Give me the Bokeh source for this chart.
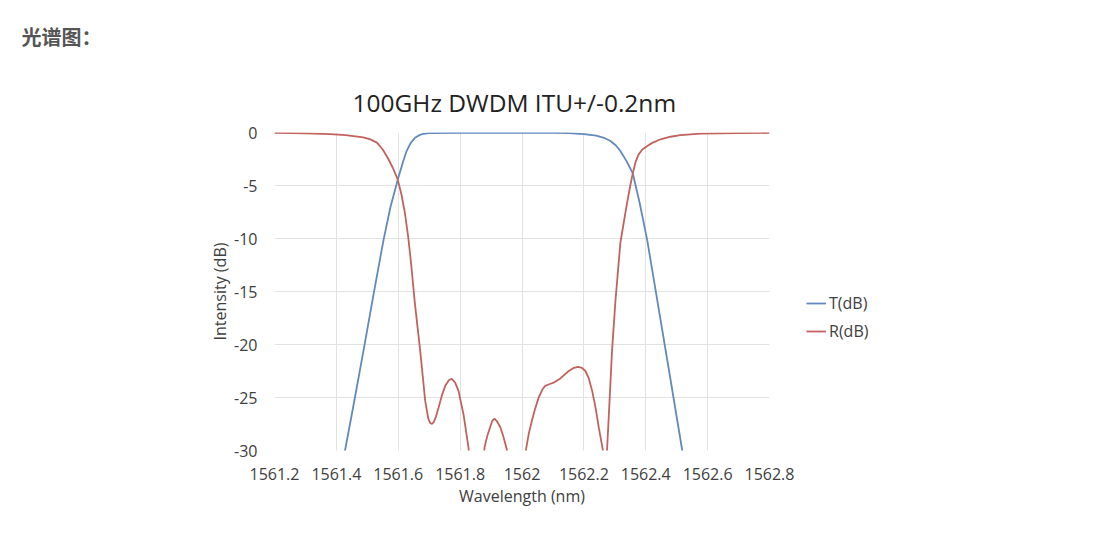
import numpy as np
from bokeh.plotting import figure
from bokeh.models import Range1d, FixedTicker, Title, Legend, LegendItem
from bokeh.embed import file_html
from bokeh.resources import INLINE

# ---------------- data ----------------
header_text = "光谱图："
title_text = "100GHz DWDM ITU+/-0.2nm"
x_label = "Wavelength (nm)"
y_label = "Intensity (dB)"

x_ticks = [1561.2, 1561.4, 1561.6, 1561.8, 1562.0, 1562.2, 1562.4, 1562.6, 1562.8]
x_tick_labels = ["1561.2", "1561.4", "1561.6", "1561.8", "1562", "1562.2", "1562.4", "1562.6", "1562.8"]
y_ticks = [0, -5, -10, -15, -20, -25, -30]
y_tick_labels = ["0", "-5", "-10", "-15", "-20", "-25", "-30"]

series_names = ["T(dB)", "R(dB)"]

# transmission (T) curve
t_wavelength = [1561.410, 1561.428, 1561.460, 1561.490, 1561.520, 1561.552, 1561.575,
                1561.600, 1561.615, 1561.627, 1561.640, 1561.654, 1561.668, 1561.681,
                1561.700, 1561.800, 1561.900, 1562.000, 1562.100, 1562.150, 1562.200,
                1562.240, 1562.265, 1562.286, 1562.303, 1562.318, 1562.338, 1562.358,
                1562.380, 1562.405, 1562.440, 1562.480, 1562.518, 1562.530]
t_intensity = [-33.0, -30.0, -25.0, -20.2, -15.3, -10.2, -7.0,
               -4.3, -2.8, -1.75, -1.0, -0.5, -0.25, -0.12,
               -0.06, -0.04, -0.03, -0.03, -0.04, -0.06, -0.15,
               -0.3, -0.5, -0.8, -1.2, -1.75, -2.7, -3.85,
               -6.6, -10.2, -16.3, -23.3, -30.0, -32.5]

# reflection (R) curve, segments separated by NaN where it dips below the axis
nan = float("nan")
r_wavelength = [1561.200, 1561.300, 1561.380, 1561.430, 1561.487, 1561.510, 1561.531,
                 1561.550, 1561.568, 1561.582, 1561.598, 1561.610, 1561.621, 1561.632,
                 1561.642, 1561.653, 1561.671, 1561.687, 1561.697, 1561.703, 1561.709,
                 1561.715, 1561.722, 1561.730, 1561.741, 1561.752, 1561.764, 1561.773,
                 1561.784, 1561.795, 1561.811, 1561.827, 1561.832, nan,
                 1561.874, 1561.879, 1561.888, 1561.897, 1561.904, 1561.911, 1561.918,
                 1561.930, 1561.940, 1561.951, 1561.955, nan,
                 1562.008, 1562.013, 1562.022, 1562.032, 1562.043, 1562.054, 1562.065,
                 1562.075, 1562.088, 1562.102, 1562.124, 1562.151, 1562.168, 1562.181,
                 1562.194, 1562.205, 1562.216, 1562.227, 1562.238, 1562.248, 1562.261,
                 1562.265, nan,
                 1562.272, 1562.275, 1562.283, 1562.291, 1562.302, 1562.318, 1562.330,
                 1562.340, 1562.350, 1562.358, 1562.367, 1562.377, 1562.389, 1562.405,
                 1562.421, 1562.448, 1562.480, 1562.512, 1562.577, 1562.700, 1562.800]
r_intensity = [-0.04, -0.08, -0.15, -0.25, -0.45, -0.65, -0.95,
               -1.6, -2.5, -3.3, -4.4, -5.8, -7.5, -9.8,
               -12.5, -15.9, -20.6, -25.3, -27.0, -27.4, -27.5,
               -27.3, -26.8, -26.0, -24.8, -23.9, -23.35, -23.25,
               -23.6, -24.4, -26.6, -29.7, -31.5, nan,
               -31.5, -29.7, -28.6, -27.8, -27.2, -27.0, -27.2,
               -27.8, -28.7, -29.9, -31.5, nan,
               -31.5, -29.9, -28.4, -27.2, -26.0, -25.0, -24.3,
               -23.9, -23.75, -23.6, -23.2, -22.5, -22.2, -22.1,
               -22.2, -22.5, -23.2, -24.4, -26.0, -27.8, -29.9,
               -31.5, nan,
               -31.5, -29.9, -25.3, -20.6, -15.9, -10.4, -8.3,
               -6.6, -5.0, -3.85, -2.8, -2.06, -1.6, -1.27,
               -0.98, -0.64, -0.4, -0.24, -0.11, -0.06, -0.04]

t_color = "#6289be"
r_color = "#c2625f"
text_color = "#404040"

# ---------------- figure ----------------
p = figure(frame_width=495, frame_height=318, output_backend="svg", toolbar_location=None,
           x_range=Range1d(1561.2, 1562.8), y_range=Range1d(-30, 0),
           min_border_left=274, min_border_right=0,
           min_border_top=132, min_border_bottom=68,
           background_fill_color="white", border_fill_color="white",
           title_location=None)
p.outline_line_color = None

tl = p.line(np.array(t_wavelength), np.array(t_intensity), line_color=t_color, line_width=1.8)
rl = p.line(np.array(r_wavelength), np.array(r_intensity), line_color=r_color, line_width=1.8)

# axes
p.xaxis.ticker = FixedTicker(ticks=x_ticks)
p.xaxis.major_label_overrides = {t: s for t, s in zip(x_ticks, x_tick_labels)}
p.yaxis.ticker = FixedTicker(ticks=y_ticks)
p.yaxis.major_label_overrides = {t: s for t, s in zip(y_ticks, y_tick_labels)}
for ax in (p.xaxis[0], p.yaxis[0]):
    ax.axis_line_color = None
    ax.major_tick_line_color = None
    ax.minor_tick_line_color = None
    ax.major_tick_out = 0
    ax.major_tick_in = 0
    ax.major_label_text_font = "Open Sans"
    ax.major_label_text_font_size = "16px"
    ax.major_label_text_color = text_color
    ax.axis_label_text_font = "Open Sans"
    ax.axis_label_text_font_size = "16px"
    ax.axis_label_text_font_style = "normal"
    ax.axis_label_text_color = text_color
p.xaxis.axis_label = x_label
p.yaxis.axis_label = y_label
p.xaxis.major_label_standoff = 17
p.yaxis.major_label_standoff = 17
p.xaxis.axis_label_standoff = 2
p.yaxis.axis_label_standoff = 0

p.xgrid.ticker = FixedTicker(ticks=x_ticks)
p.ygrid.ticker = FixedTicker(ticks=y_ticks)
p.grid.grid_line_color = "#e2e2e2"
p.grid.grid_line_width = 1

# legend on the right of the frame
lg = Legend(items=[LegendItem(label=series_names[0], renderers=[tl]),
                   LegendItem(label=series_names[1], renderers=[rl])],
            location=(37, 108))
lg.border_line_color = None
lg.background_fill_alpha = 0
lg.padding = 0
lg.margin = 0
lg.spacing = 6
lg.glyph_width = 20
lg.glyph_height = 20
lg.label_height = 20
lg.label_width = 150
lg.label_standoff = 3
lg.label_text_font = "Open Sans"
lg.label_text_font_size = "16px"
lg.label_text_color = text_color
p.add_layout(lg, "right")

# chart title and page header
p.add_layout(Title(text=title_text, align="left", offset=78, text_font="Open Sans",
                   text_font_size="24.5px", text_font_style="normal",
                   text_color="#222222", standoff=28), "above")
p.add_layout(Title(text=header_text, align="left", offset=-253,
                   text_font="Noto Sans CJK SC", text_font_size="20px",
                   text_font_style="bold", text_color="#555555", standoff=38), "above")

open("out.html", "w").write(file_html(p, INLINE))
